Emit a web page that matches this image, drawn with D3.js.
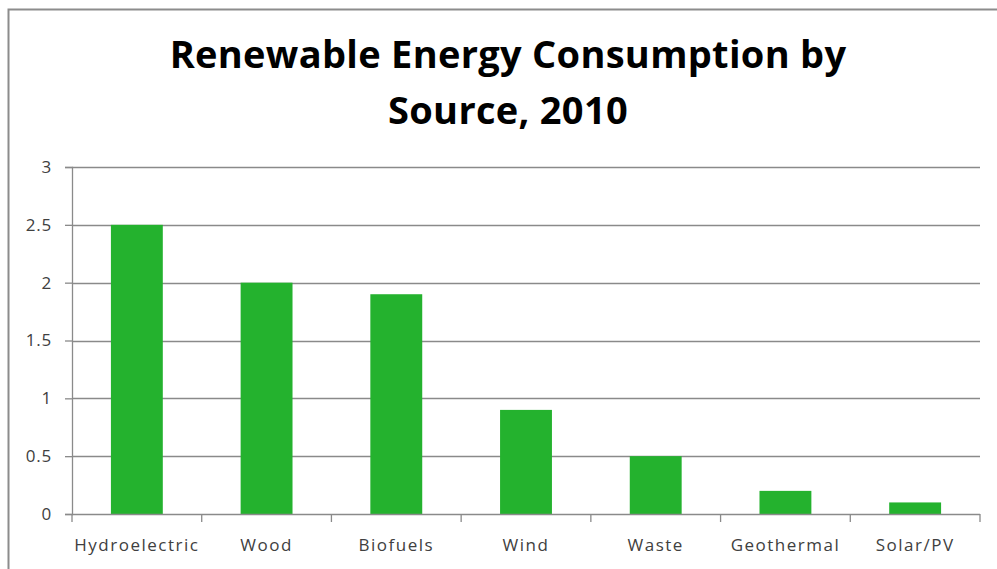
<!DOCTYPE html>
<html>
<head>
<meta charset="utf-8">
<script src="https://cdn.jsdelivr.net/npm/d3@7"></script>
<style>
html,body{margin:0;padding:0;background:#fff;}
svg{display:block;}
</style>
</head>
<body>
<svg id="chart" width="997" height="569"></svg>
<script>
const categories = ["Hydroelectric","Wood","Biofuels","Wind","Waste","Geothermal","Solar/PV"];
const values = [2.5, 2.0, 1.9, 0.9, 0.5, 0.2, 0.1];
const yTicks = [0, 0.5, 1, 1.5, 2, 2.5, 3];
const titleLines = ["Renewable Energy Consumption by", "Source, 2010"];

const svg = d3.select("#chart");
const W = 997, H = 569;
const margin = {left: 72, right: 17, top: 167, bottom: 55};

// outer frame
svg.append("rect").attr("x", 8.5).attr("y", 9.5).attr("width", W + 20).attr("height", H + 20)
  .attr("fill", "#fff").attr("stroke", "#8c8c8c").attr("stroke-width", 2);

const x = d3.scaleBand().domain(categories).range([margin.left, W - margin.right]).paddingInner(0.6).paddingOuter(0.3);
const y = d3.scaleLinear().domain([0, 3]).range([H - margin.bottom, margin.top]);

// title
const title = svg.append("text").attr("text-anchor", "middle")
  .attr("font-family", "'Open Sans', sans-serif").attr("font-weight", "bold")
  .attr("font-size", 38).attr("fill", "#000").attr("letter-spacing", "0.3px");
title.selectAll("tspan").data(titleLines).join("tspan")
  .attr("x", 508).attr("y", (d, i) => 68 + i * 56).text(d => d);

// gridlines
svg.append("g").selectAll("line").data(yTicks.filter(d => d > 0)).join("line")
  .attr("x1", margin.left).attr("x2", W - margin.right)
  .attr("y1", d => Math.round(y(d)) + 0.5).attr("y2", d => Math.round(y(d)) + 0.5)
  .attr("stroke", "#8a8a8a").attr("stroke-width", 1.3);

// bars
svg.append("g").selectAll("rect").data(values).join("rect")
  .attr("x", (d, i) => x(categories[i]))
  .attr("width", x.bandwidth())
  .attr("y", d => y(d))
  .attr("height", d => y(0) - y(d))
  .attr("fill", "#24b22e");

// y axis
const yAxis = d3.axisLeft(y).tickValues(yTicks).tickSize(7).tickPadding(13).tickFormat(d3.format("~g"));
const gy = svg.append("g").attr("transform", `translate(${margin.left},0)`).call(yAxis);
gy.select(".domain").attr("stroke", "#8a8a8a").attr("stroke-width", 1.3);
gy.selectAll(".tick line").attr("stroke", "#8a8a8a").attr("stroke-width", 1.3);
gy.selectAll(".tick text").attr("font-family", "'Open Sans', sans-serif").attr("font-size", 17)
  .attr("fill", "#404040").attr("letter-spacing", "0.8px");

// x axis
const xEdge = d3.scaleLinear().domain([0, categories.length]).range([margin.left, W - margin.right]);
const gx = svg.append("g").attr("transform", `translate(0,${y(0)})`);
gx.append("line").attr("x1", margin.left).attr("x2", W - margin.right).attr("y1", 0.5).attr("y2", 0.5)
  .attr("stroke", "#8a8a8a").attr("stroke-width", 1.3);
gx.selectAll("line.tk").data(d3.range(categories.length + 1)).join("line").attr("class", "tk")
  .attr("x1", d => xEdge(d)).attr("x2", d => xEdge(d)).attr("y1", 0).attr("y2", 8)
  .attr("stroke", "#8a8a8a").attr("stroke-width", 1.3);
gx.selectAll("text").data(categories).join("text")
  .attr("x", d => x(d) + x.bandwidth() / 2).attr("y", 37)
  .attr("text-anchor", "middle")
  .attr("font-family", "'Open Sans', sans-serif").attr("font-size", 17)
  .attr("fill", "#404040").attr("letter-spacing", "1.5px")
  .text(d => d);
</script>
</body>
</html>
